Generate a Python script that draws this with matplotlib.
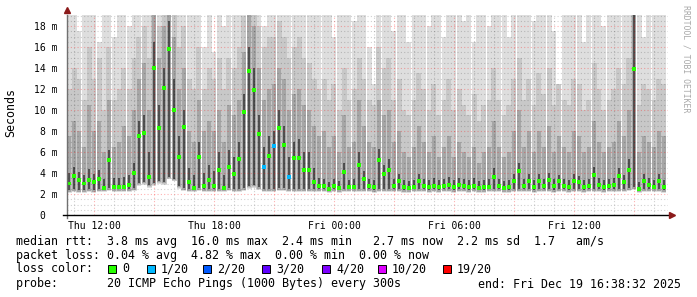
import numpy as np
import pandas as pd
import matplotlib
matplotlib.use('Agg')
import matplotlib.pyplot as plt
import matplotlib.dates as mdates
from matplotlib.patches import Rectangle

# median rtt per 15 min step (ms), Thu 10:45 -> Fri 16:30
median_ms = [
    3.0, 3.7, 3.3, 3.0, 3.3, 3.1, 3.4, 2.6, 5.2, 2.7,
    2.7, 2.7, 2.9, 4.0, 7.5, 7.8, 3.6, 14.0, 8.3, 12.1,
    15.8, 10.0, 5.5, 8.4, 3.1, 2.6, 5.5, 2.8, 3.3, 2.8,
    4.3, 2.6, 4.6, 3.9, 5.3, 9.8, 13.7, 11.9, 7.7, 4.6,
    5.6, 6.6, 8.3, 6.7, 3.6, 5.4, 5.4, 4.3, 4.3, 3.1,
    2.8, 2.8, 2.5, 2.8, 2.6, 4.1, 2.7, 2.7, 4.8, 3.4,
    2.8, 2.7, 5.2, 3.9, 4.3, 2.8, 3.2, 2.7, 2.6, 2.7,
    3.2, 2.8, 2.7, 2.8, 2.7, 2.8, 2.9, 2.7, 2.9, 2.8,
    2.7, 2.8, 2.6, 2.7, 2.7, 3.6, 2.8, 2.6, 2.7, 3.2,
    4.2, 2.8, 3.2, 2.7, 3.2, 2.8, 3.3, 2.8, 3.2, 2.8,
    2.7, 3.2, 3.1, 2.7, 2.8, 3.8, 2.9, 2.7, 2.8, 2.9,
    3.7, 3.1, 4.3, 13.9, 2.5, 3.2, 2.9, 2.7, 3.2, 2.7,
]
# steps with lost pings: index -> lost out of 20
lost_pings = {39: 1, 41: 1, 44: 1}

# smoke: bottom of the ping spread and the tops of the grey bands (ms)
smoke_lo = [
    2.1, 2.2, 2.1, 2.1, 2.2, 2.1, 2.2, 2.2, 2.3, 2.2,
    2.2, 2.2, 2.2, 2.3, 2.8, 2.9, 2.6, 2.8, 3.0, 2.9,
    3.4, 3.2, 2.5, 2.3, 2.2, 2.2, 2.3, 2.2, 2.2, 2.2,
    2.2, 2.2, 2.3, 2.2, 2.2, 2.3, 2.5, 2.6, 2.4, 2.2,
    2.2, 2.2, 2.3, 2.3, 2.2, 2.2, 2.2, 2.2, 2.2, 2.2,
    2.2, 2.2, 2.1, 2.2, 2.1, 2.2, 2.2, 2.2, 2.2, 2.2,
    2.2, 2.1, 2.2, 2.2, 2.2, 2.2, 2.2, 2.1, 2.1, 2.2,
    2.2, 2.2, 2.1, 2.2, 2.1, 2.2, 2.2, 2.1, 2.2, 2.2,
    2.1, 2.2, 2.1, 2.1, 2.2, 2.2, 2.2, 2.1, 2.1, 2.2,
    2.2, 2.2, 2.2, 2.1, 2.2, 2.2, 2.2, 2.1, 2.2, 2.2,
    2.1, 2.2, 2.2, 2.1, 2.2, 2.2, 2.2, 2.1, 2.2, 2.2,
    2.2, 2.2, 2.3, 2.4, 2.1, 2.2, 2.2, 2.2, 2.2, 2.1,
]
smoke_dark = [
    4.0, 4.6, 4.1, 3.8, 4.4, 3.9, 4.3, 3.4, 6.2, 3.5,
    3.5, 3.6, 3.8, 5.0, 9.0, 9.5, 6.0, 16.5, 10.5, 14.0,
    18.5, 13.0, 7.5, 10.0, 4.5, 3.8, 7.0, 4.0, 4.8, 4.2,
    6.0, 3.8, 6.2, 5.5, 7.0, 11.5, 16.0, 14.0, 9.5, 6.5,
    7.5, 8.0, 10.0, 8.5, 5.5, 7.0, 7.2, 6.0, 6.0, 4.5,
    3.5, 3.4, 3.1, 3.4, 3.2, 5.0, 3.3, 3.4, 6.0, 4.2,
    3.4, 3.3, 6.3, 4.8, 5.3, 3.4, 3.9, 3.3, 3.2, 3.3,
    3.9, 3.4, 3.3, 3.5, 3.3, 3.4, 3.6, 3.3, 3.5, 3.4,
    3.3, 3.5, 3.2, 3.3, 3.4, 4.5, 3.4, 3.2, 3.3, 3.9,
    5.0, 3.4, 3.9, 3.3, 3.9, 3.4, 4.0, 3.4, 3.8, 3.4,
    3.3, 3.9, 3.7, 3.3, 3.4, 4.6, 3.5, 3.3, 3.4, 3.5,
    4.5, 3.8, 5.3, 19.5, 3.1, 3.9, 3.5, 3.3, 3.9, 3.3,
]
smoke_mid = [
    7.5, 9.0, 8.0, 6.5, 10.5, 8.0, 9.0, 6.0, 11.0, 6.5,
    7.0, 8.5, 7.5, 10.0, 13.0, 14.5, 10.0, 19.5, 15.0, 18.0,
    19.5, 17.0, 12.0, 14.0, 8.0, 7.0, 11.0, 8.0, 9.0, 8.0,
    10.0, 7.0, 10.5, 9.5, 11.0, 15.5, 19.5, 18.0, 14.0, 11.0,
    12.0, 12.5, 14.0, 13.0, 10.0, 11.5, 12.0, 10.5, 10.0, 8.5,
    7.5, 8.0, 6.5, 7.5, 6.0, 9.5, 6.5, 7.0, 11.0, 8.5,
    7.0, 6.5, 11.0, 9.5, 10.0, 7.0, 8.0, 6.0, 5.5, 6.5,
    8.5, 7.0, 6.0, 7.5, 5.5, 6.5, 7.5, 5.5, 7.0, 6.0,
    5.5, 6.5, 5.0, 6.0, 6.5, 9.0, 6.5, 5.5, 6.0, 8.0,
    10.0, 6.5, 8.0, 6.0, 8.0, 6.5, 8.5, 6.0, 7.5, 6.5,
    6.0, 8.0, 7.5, 6.0, 6.5, 9.0, 7.0, 6.0, 6.5, 7.0,
    9.0, 7.5, 10.0, 19.5, 6.0, 7.5, 7.0, 6.5, 8.0, 7.5,
]
smoke_light = [
    12.0, 14.0, 13.0, 11.0, 16.0, 13.0, 15.0, 10.0, 16.0, 11.0,
    12.0, 14.0, 12.0, 15.0, 17.0, 18.0, 15.0, 19.5, 18.0, 19.5,
    19.5, 19.5, 16.0, 18.0, 13.0, 12.0, 16.0, 12.0, 14.0, 13.0,
    15.0, 12.0, 15.0, 14.0, 16.0, 19.0, 19.5, 19.5, 18.0, 16.0,
    17.0, 17.0, 18.5, 17.0, 15.0, 16.0, 17.0, 15.0, 14.5, 13.0,
    12.0, 13.0, 11.0, 12.5, 10.0, 14.0, 11.0, 12.0, 15.0, 13.0,
    11.0, 10.5, 16.0, 14.0, 15.0, 11.0, 13.0, 10.0, 9.5, 11.0,
    13.5, 12.0, 10.0, 12.5, 9.5, 11.0, 13.0, 10.0, 12.0, 10.5,
    9.5, 11.5, 9.0, 10.5, 11.0, 14.0, 11.0, 9.5, 10.5, 13.0,
    15.0, 11.0, 13.0, 10.5, 13.5, 11.5, 14.0, 10.5, 12.5, 11.0,
    10.5, 13.0, 12.5, 10.0, 11.0, 14.5, 12.0, 10.0, 11.0, 12.0,
    14.0, 12.5, 15.0, 19.5, 10.5, 12.5, 12.0, 11.0, 13.0, 12.5,
]
smoke_top = [
    19.5, 19.5, 17.5, 19.5, 19.5, 19.5, 16.5, 19.5, 19.5, 17.0,
    19.5, 19.5, 18.0, 19.5, 19.5, 19.5, 19.5, 19.5, 19.5, 19.5,
    19.5, 19.5, 19.5, 19.5, 19.5, 19.5, 19.5, 16.0, 19.5, 15.5,
    19.5, 18.0, 19.5, 19.5, 19.5, 19.5, 19.5, 19.5, 19.5, 18.0,
    19.5, 19.5, 19.5, 19.5, 19.5, 19.5, 19.5, 19.5, 19.5, 19.5,
    19.5, 19.5, 19.5, 17.0, 19.5, 19.5, 19.5, 18.5, 19.5, 19.5,
    16.0, 12.5, 19.5, 19.5, 19.5, 17.5, 19.5, 19.5, 16.5, 19.5,
    19.5, 19.5, 18.0, 19.5, 19.5, 17.0, 19.5, 19.5, 19.5, 18.5,
    19.5, 16.5, 19.5, 19.5, 18.0, 19.5, 19.5, 19.5, 17.0, 19.5,
    19.5, 19.5, 19.5, 18.5, 19.5, 19.5, 19.5, 17.5, 11.5, 19.5,
    19.5, 19.5, 19.5, 16.5, 19.5, 19.5, 19.5, 18.0, 19.5, 19.5,
    19.5, 19.5, 19.5, 19.5, 19.5, 17.0, 19.5, 19.5, 19.5, 19.5,
]

y_ticks = [0, 2, 4, 6, 8, 10, 12, 14, 16, 18]
y_labels = ['0  ', '2 m', '4 m', '6 m', '8 m', '10 m', '12 m', '14 m', '16 m', '18 m']
x_tick_times = ['2025-12-18 12:00', '2025-12-18 18:00', '2025-12-19 00:00',
                '2025-12-19 06:00', '2025-12-19 12:00']
x_tick_labels = ['Thu 12:00', 'Thu 18:00', 'Fri 00:00', 'Fri 06:00', 'Fri 12:00']

loss_steps = ['0', '1/20', '2/20', '3/20', '4/20', '10/20', '19/20']
loss_colors = ['#26ff00', '#00b8ff', '#0059ff', '#5e00ff', '#7e00ff', '#dd00ff', '#ff0000']
loss_lookup = {0: '#26ff00', 1: '#00b8ff', 2: '#0059ff', 3: '#5e00ff', 4: '#7e00ff'}

rtt_line = "median rtt:  3.8 ms avg  16.0 ms max  2.4 ms min   2.7 ms now  2.2 ms sd  1.7   am/s"
loss_line = "packet loss: 0.04 % avg  4.82 % max  0.00 % min  0.00 % now"
probe_line = "probe:       20 ICMP Echo Pings (1000 Bytes) every 300s"
end_line = "end: Fri Dec 19 16:38:32 2025"

plt.rcParams['font.family'] = ['DejaVu Sans Mono']

W, H = 697, 297
fig = plt.figure(figsize=(W / 100, H / 100), dpi=100)
fig.patch.set_facecolor('white')
ax = fig.add_axes([67 / W, (H - 215) / H, (668 - 67) / W, (215 - 14.5) / H])

times = pd.date_range('2025-12-18 10:45', periods=len(median_ms), freq='15min')
x = mdates.date2num(times.to_pydatetime())
step = 15 / 1440

lo = np.array(smoke_lo)
# smoke bands, lightest (outer pings) first; inner bands drawn narrower
bands = [(smoke_top, 0.0, '#dedede', 1.0),
         (smoke_light, 0.05, '#c8c8c8', 1.0),
         (smoke_mid, 0.12, '#a6a6a6', 0.8),
         (smoke_dark, 0.25, '#505050', 0.5)]
for tops, lift, col, frac in bands:
    bottom = lo + lift
    ax.bar(x, np.array(tops) - bottom, bottom=bottom, width=step * frac, color=col,
           linewidth=0, antialiased=False, zorder=1)

# median dots coloured by loss
dot_colors = [loss_lookup[lost_pings.get(i, 0)] for i in range(len(median_ms))]
ax.scatter(x, median_ms, marker='s', s=8, c=dot_colors, linewidths=0, zorder=5)

ax.set_xlim(mdates.date2num(pd.Timestamp('2025-12-18 10:39').to_pydatetime()),
            mdates.date2num(pd.Timestamp('2025-12-19 16:42').to_pydatetime()))
ax.set_ylim(0, 19.1)

# grid: dotted, drawn over the smoke like rrdtool does
for hr in pd.date_range('2025-12-18 11:00', '2025-12-19 16:00', freq='1h'):
    major = hr.hour % 3 == 0
    ax.axvline(mdates.date2num(hr.to_pydatetime()), lw=0.8, ls=(0, (1, 2)),
               color=(1, 0, 0, 0.3) if major else (0, 0, 0, 0.18), zorder=3)
for v in np.arange(0.5, 19.1, 0.5):
    major = abs(v % 2) < 1e-9
    ax.axhline(v, lw=0.8, ls=(0, (1, 2)),
               color=(1, 0, 0, 0.3) if major else (0, 0, 0, 0.18), zorder=3)

ax.set_xticks(mdates.date2num([pd.Timestamp(t).to_pydatetime() for t in x_tick_times]))
ax.set_xticklabels(x_tick_labels)
ax.set_yticks(y_ticks)
ax.set_yticklabels(y_labels)
ax.tick_params(axis='x', length=0, pad=4, labelsize=7)
ax.tick_params(axis='y', length=0, pad=6.5, labelsize=7)
for s in ax.spines.values():
    s.set_visible(False)

# axes lines with arrow heads
ax.plot([0, 0], [-0.015, 1.0], transform=ax.transAxes, color='#707070', lw=1,
        clip_on=False, zorder=6)
ax.plot([-0.007, 1.0], [0, 0], transform=ax.transAxes, color='black', lw=1,
        clip_on=False, zorder=6)
ax.plot([0], [1.02], transform=ax.transAxes, marker='^', ms=4.5, color='#8b1a1a',
        clip_on=False, zorder=7)
ax.plot([1.006], [0], transform=ax.transAxes, marker='>', ms=4.5, color='#8b1a1a',
        clip_on=False, zorder=7)


def fx(px):
    return px / W


def fy(py):
    return 1 - py / H


fig.text(fx(11), fy(113), 'Seconds', rotation=90, ha='center', va='center', fontsize=8.4)
fig.text(fx(686), fy(5), 'RRDTOOL / TOBI OETIKER', rotation=270, ha='center', va='top',
         fontsize=5.9, color='#a8a8a8')

fig.text(fx(16), fy(241), rtt_line, va='center', fontsize=8.4)
fig.text(fx(16), fy(255), loss_line, va='center', fontsize=8.4)
fig.text(fx(16), fy(269), 'loss color:', va='center', fontsize=8.4)
square_x = [108, 147, 203, 262, 322, 378, 443]
for sx, lab, col in zip(square_x, loss_steps, loss_colors):
    fig.patches.append(Rectangle((fx(sx), fy(273)), 8 / W, 8 / H, transform=fig.transFigure,
                                 facecolor=col, edgecolor='black', linewidth=0.7))
    fig.text(fx(sx + 14), fy(269), lab, va='center', fontsize=8.4)
fig.text(fx(16), fy(284), probe_line, va='center', fontsize=8.4)
fig.text(fx(478), fy(284), end_line, va='center', fontsize=8.4)

fig.savefig('out.png', dpi=100)
